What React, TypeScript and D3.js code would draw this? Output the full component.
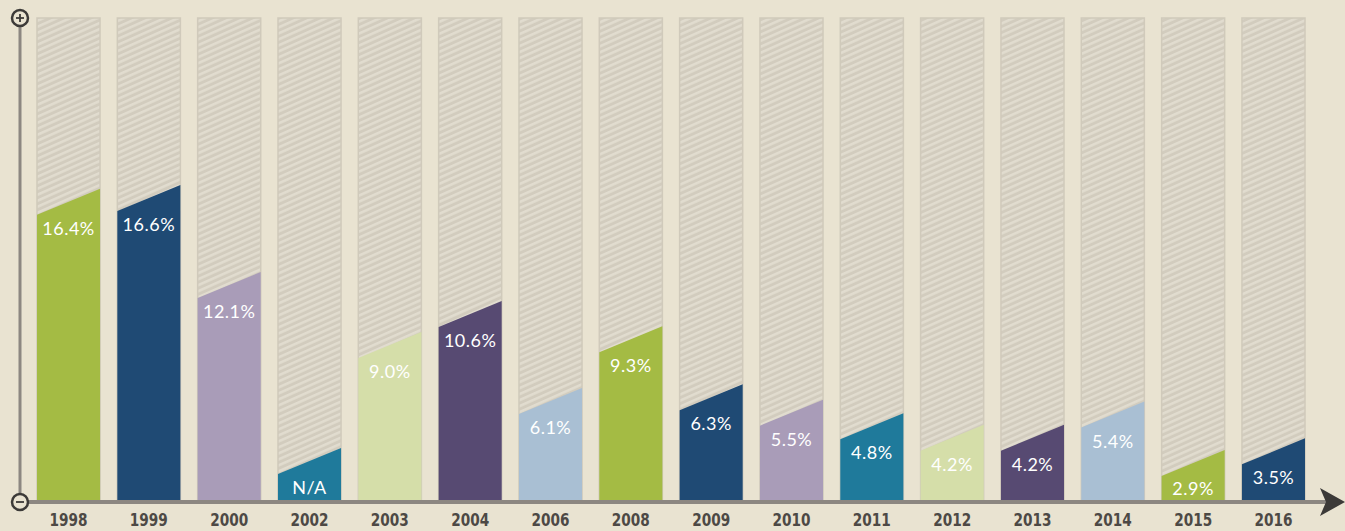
import * as d3 from "d3";
import { useEffect, useRef } from "react";

// 연도 / 값 / 라벨
const years = ["1998", "1999", "2000", "2002", "2003", "2004", "2006", "2008", "2009", "2010", "2011", "2012", "2013", "2014", "2015", "2016"];
const values: (number | null)[] = [16.4, 16.6, 12.1, null, 9.0, 10.6, 6.1, 9.3, 6.3, 5.5, 4.8, 4.2, 4.2, 5.4, 2.9, 3.5];
const naPlaceholder = 3.0; // N/A 막대 높이
const palette = ["#a4bb44", "#1f4a74", "#a99cb8", "#1f7a9b", "#d5dea9", "#574a72", "#a9bfd3"];

export default function App() {
  const svgRef = useRef<SVGSVGElement>(null);

  useEffect(() => {
    if (!svgRef.current) return;
    const width = 1345;
    const height = 531;
    const svg = d3.select(svgRef.current).attr("width", width).attr("height", height);
    svg.selectAll("*").remove();

    // 해치 패턴
    const defs = svg.append("defs");
    const pat = defs
      .append("pattern")
      .attr("id", "hatch")
      .attr("patternUnits", "userSpaceOnUse")
      .attr("width", 16)
      .attr("height", 6)
      .attr("patternTransform", "skewY(-24)");
    pat.append("rect").attr("width", 16).attr("height", 6).attr("fill", "#d2ccbe");
    pat.append("rect").attr("y", 0).attr("width", 16).attr("height", 2.8).attr("fill", "#e1dccf");

    svg.append("rect").attr("width", width).attr("height", height).attr("fill", "#e9e3d1");

    const x = d3.scaleBand<string>().domain(years).range([37, 1305]).paddingInner(0.215).paddingOuter(0);
    const y = d3.scaleLinear().domain([0, 25]).range([506, 22.5]);
    const top = 18;
    const base = 501;
    const slant = 26;

    const data = years.map((yr, i) => ({ yr, v: values[i], i }));

    // 배경 막대
    svg
      .selectAll(".bg")
      .data(data)
      .enter()
      .append("rect")
      .attr("class", "bg")
      .attr("x", (d) => x(d.yr)!)
      .attr("y", top)
      .attr("width", x.bandwidth())
      .attr("height", base - top)
      .attr("fill", "url(#hatch)")
      .attr("stroke", "#d0cabb")
      .attr("stroke-width", 1.5);

    // 값 막대 (기울어진 윗면)
    svg
      .selectAll(".bar")
      .data(data)
      .enter()
      .append("path")
      .attr("class", "bar")
      .attr("d", (d) => {
        const x0 = x(d.yr)!;
        const x1 = x0 + x.bandwidth();
        const yt = y(d.v ?? naPlaceholder);
        return `M${x0},${base} L${x0},${yt + slant} L${x1},${yt} L${x1},${base} Z`;
      })
      .attr("fill", (d) => palette[d.i % palette.length]);

    // 값 라벨
    svg
      .selectAll(".val")
      .data(data)
      .enter()
      .append("text")
      .attr("class", "val")
      .attr("x", (d) => x(d.yr)! + x.bandwidth() / 2)
      .attr("y", (d) => Math.min(y(d.v ?? naPlaceholder) + slant + 20, base - 6))
      .attr("text-anchor", "middle")
      .attr("fill", "#ffffff")
      .style("font-family", "Lato, 'Open Sans', sans-serif")
      .style("font-size", "18px")
      .style("letter-spacing", "0.5px")
      .text((d) => (d.v === null ? "N/A" : `${d.v.toFixed(1)}%`));

    // 축
    svg.append("line").attr("x1", 20).attr("x2", 1330).attr("y1", 502).attr("y2", 502).attr("stroke", "#8c8781").attr("stroke-width", 4);
    svg.append("line").attr("x1", 20).attr("x2", 20).attr("y1", 18).attr("y2", 502).attr("stroke", "#8c8781").attr("stroke-width", 3);
    svg.append("path").attr("d", "M1320,488 L1345,502 L1320,516 L1326,502 Z").attr("fill", "#3c3a38");

    [18, 502].forEach((cy, k) => {
      svg.append("circle").attr("cx", 20).attr("cy", cy).attr("r", 8).attr("fill", "#e9e3d1").attr("stroke", "#3c3a38").attr("stroke-width", 2.5);
      svg.append("line").attr("x1", 16).attr("x2", 24).attr("y1", cy).attr("y2", cy).attr("stroke", "#3c3a38").attr("stroke-width", 1.8);
      if (k === 0) svg.append("line").attr("x1", 20).attr("x2", 20).attr("y1", cy - 4).attr("y2", cy + 4).attr("stroke", "#3c3a38").attr("stroke-width", 1.8);
    });

    // 연도 라벨
    svg
      .selectAll(".yr")
      .data(data)
      .enter()
      .append("text")
      .attr("class", "yr")
      .attr("x", (d) => x(d.yr)! + x.bandwidth() / 2)
      .attr("y", 526)
      .attr("text-anchor", "middle")
      .attr("fill", "#4d4945")
      .attr("textLength", 38)
      .attr("lengthAdjust", "spacingAndGlyphs")
      .style("font-family", "'DejaVu Sans Condensed', 'DejaVu Sans', sans-serif")
      .style("font-weight", "bold")
      .style("font-size", "18px")
      .text((d) => d.yr);
  }, []);

  return <svg ref={svgRef} style={{ position: "absolute", left: 0, top: 0 }}></svg>;
}
